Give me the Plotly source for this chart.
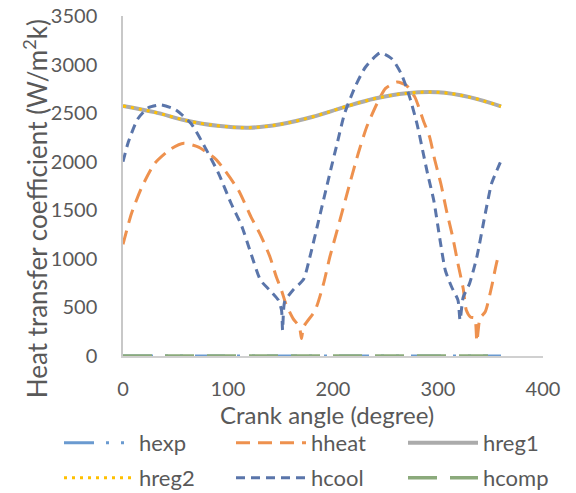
import plotly.graph_objects as go

# ---- data ----
angle_grid = [0, 30, 60, 90, 120, 150, 180, 210, 240, 270, 300, 330, 360]
hexp_vals = [0, 0, 0, 0, 0, 0, 0, 0, 0, 0, 0, 0, 0]
hcomp_vals = [0, 0, 0, 0, 0, 0, 0, 0, 0, 0, 0, 0, 0]
hreg1_vals = [2575, 2510, 2425, 2370, 2350, 2385, 2460, 2560, 2650, 2705, 2715, 2665, 2570]
hreg2_vals = [2575, 2510, 2425, 2370, 2350, 2385, 2460, 2560, 2650, 2705, 2715, 2665, 2570]

hheat_x = [0, 8, 18, 30, 46, 58, 72, 88, 97, 110, 122, 131, 140, 146, 151, 155, 162, 168, 170,
           172, 183, 191, 197, 204, 216, 224, 232, 242, 250, 261, 270, 278, 286, 292, 297, 303,
           308, 314, 319, 324, 327, 331, 335, 337, 340, 345, 351, 357, 360]
hheat_y = [1150, 1465, 1740, 1980, 2135, 2190, 2150, 2030, 1910, 1705, 1430, 1245, 1020, 815, 675,
           540, 385, 300, 180, 300, 470, 745, 1020, 1295, 1775, 2085, 2355, 2600, 2755, 2820, 2785,
           2665, 2425, 2255, 2015, 1760, 1500, 1225, 950, 695, 470, 400, 390, 150, 390, 455, 710,
           1005, 1050]

hcool_x = [0, 5, 14, 24, 36, 50, 65, 78, 91, 103, 113, 122, 131, 140, 148, 151, 152, 154, 162,
           172, 178, 186, 197, 204, 211, 221, 231, 245, 256, 265, 273, 280, 286, 290, 296, 302,
           307, 313, 319, 321, 324, 330, 337, 345, 351, 356, 360]
hcool_y = [2000, 2200, 2440, 2555, 2585, 2535, 2390, 2150, 1880, 1570, 1340, 1050, 780, 675, 575,
           470, 265, 560, 680, 790, 1020, 1380, 1880, 2190, 2495, 2770, 2975, 3120, 3060, 2905,
           2665, 2390, 2085, 1880, 1600, 1190, 880, 710, 575, 370, 605, 745, 1020, 1465, 1775,
           1910, 2010]

x_ticks = [0, 100, 200, 300, 400]
y_ticks = [0, 500, 1000, 1500, 2000, 2500, 3000, 3500]

FONT = "Lato"
TXT = "#595959"

fig = go.Figure()
fig.add_trace(go.Scatter(x=angle_grid, y=hexp_vals, name="hexp", mode="lines", legend="legend",
                         line=dict(color="#6A9AD0", width=3, dash="30px,12px,3px,12px,3px,12px")))
fig.add_trace(go.Scatter(x=hheat_x, y=hheat_y, name="hheat", mode="lines", legend="legend",
                         line=dict(color="#EE914E", width=3, dash="14px,8px", shape="spline", smoothing=0.6)))
fig.add_trace(go.Scatter(x=angle_grid, y=hreg1_vals, name="hreg1", mode="lines", legend="legend",
                         line=dict(color="#ABABAB", width=4, shape="spline")))
fig.add_trace(go.Scatter(x=angle_grid, y=hreg2_vals, name="hreg2", mode="lines", legend="legend2",
                         line=dict(color="#FFC000", width=3, dash="3px,5px", shape="spline")))
fig.add_trace(go.Scatter(x=hcool_x, y=hcool_y, name="hcool", mode="lines", legend="legend2",
                         line=dict(color="#5A75AA", width=3, dash="9px,6px", shape="spline", smoothing=0.6)))
fig.add_trace(go.Scatter(x=angle_grid, y=hcomp_vals, name="hcomp", mode="lines", legend="legend2",
                         line=dict(color="#8BAA7B", width=3.5, dash="29px,13px")))

PW, PH = 420, 340
L, B_ = 123, 137
legend_common = dict(orientation="h", xref="paper", yref="paper", xanchor="left",
                     yanchor="middle", entrywidth=87, entrywidthmode="pixels", itemwidth=70,
                     font=dict(family=FONT, size=22, color=TXT), bgcolor="rgba(0,0,0,0)",
                     itemclick=False, itemdoubleclick=False)

fig.update_layout(
    width=576, height=493, autosize=False,
    margin=dict(l=L, r=33, t=16, b=B_, pad=0, autoexpand=False),
    paper_bgcolor="white", plot_bgcolor="white",
    font=dict(family=FONT, size=20, color=TXT),
    showlegend=True,
    legend=dict(x=(59 - L) / PW, y=(493 - B_ - 443) / PH, **legend_common),
    legend2=dict(x=(59 - L) / PW, y=(493 - B_ - 478) / PH, **legend_common),
    xaxis=dict(range=[0, 400], tickvals=x_ticks, ticktext=[str(v) for v in x_ticks],
               showgrid=False, zeroline=False, showline=True, linecolor="#D0D0D0", linewidth=1.5,
               ticks="", ticklabelstandoff=14, tickfont=dict(family=FONT, size=20, color=TXT),
               automargin=False),
    yaxis=dict(range=[0, 3500], tickvals=y_ticks, ticktext=[str(v) for v in y_ticks],
               showgrid=False, zeroline=False, showline=True, linecolor="#C8C8C8", linewidth=1.5,
               ticks="", ticklabelstandoff=20, tickfont=dict(family=FONT, size=20, color=TXT),
               automargin=False),
    annotations=[
        dict(text="Heat transfer coefficient (W/m<sup>2</sup>k)", textangle=-90,
             xref="paper", yref="paper", x=(35 - L) / PW, y=(355.7 - 209) / PH,
             xanchor="center", yanchor="middle", showarrow=False,
             font=dict(family=FONT, size=26, color=TXT)),
        dict(text="Crank angle (degree)", xref="paper", yref="paper",
             x=(327 - L) / PW, y=(355.7 - 414) / PH, xanchor="center", yanchor="middle",
             showarrow=False, font=dict(family=FONT, size=24, color=TXT)),
    ],
)

fig.write_html("out.html", post_script="document.body.style.margin='0';",
               config={"displayModeBar": False})
